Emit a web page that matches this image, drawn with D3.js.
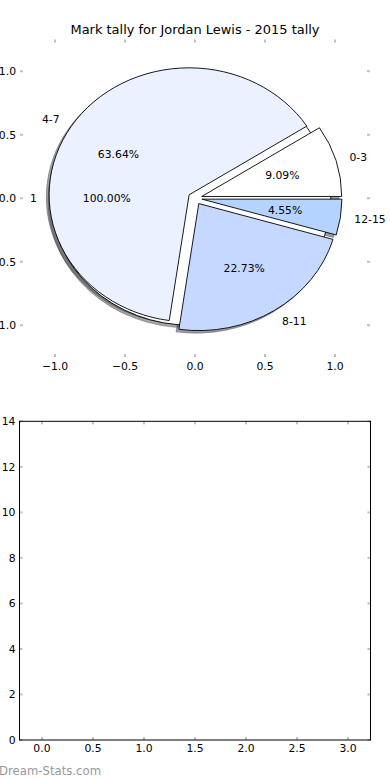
<!DOCTYPE html>
<html>
<head>
<meta charset="utf-8">
<script src="https://cdn.jsdelivr.net/npm/d3@7/dist/d3.min.js"></script>
<style>
  html, body { margin: 0; padding: 0; background: #ffffff; }
  svg { display: block; }
  text { font-family: "DejaVu Sans", sans-serif; }
</style>
</head>
<body>
<div id="chart"></div>
<script>
// ---------- data ----------
const chartTitle = "Mark tally for Jordan Lewis - 2015 tally";
const pieLabels = ["0-3", "4-7", "8-11", "12-15"];
const pieValues = [2, 14, 5, 1];
const pieColors = ["#ffffff", "#ebf1ff", "#c5d8ff", "#b4d3ff"];
const pieExplode = [0.05, 0.05, 0.05, 0.05];
const totalLabels = ["1"];
const totalValues = [22];
const totalColors = ["#ffffff"];
const totalExplode = [0.03];
const pieTicks = [-1.0, -0.5, 0.0, 0.5, 1.0];
const barXTicks = [0.0, 0.5, 1.0, 1.5, 2.0, 2.5, 3.0];
const barYTicks = [0, 2, 4, 6, 8, 10, 12, 14];
const watermark = "Dream-Stats.com";

// ---------- layout ----------
const W = 390, H = 780;
const FS = 10.8;
const svg = d3.select("#chart").append("svg").attr("width", W).attr("height", H);

const px = d3.scaleLinear().domain([-1.25, 1.25]).range([20, 370]);
const py = d3.scaleLinear().domain([-1.25, 1.25]).range([357, 39.5]);

const bx = d3.scaleLinear().domain([-0.22, 3.22]).range([19.5, 370.5]);
const by = d3.scaleLinear().domain([0, 14]).range([740, 421.3]);

const tickColor = "#c0c0c0";
const tickLen = 3;
const fmt1 = d3.format(".1f");

// ---------- pie axes ticks ----------
const pAx = svg.append("g");
pieTicks.forEach(t => {
  // bottom & top
  pAx.append("line").attr("x1", px(t)).attr("x2", px(t)).attr("y1", py(-1.25)).attr("y2", py(-1.25) - tickLen)
     .attr("stroke", tickColor).attr("stroke-width", 2);
  pAx.append("line").attr("x1", px(t)).attr("x2", px(t)).attr("y1", py(1.25)).attr("y2", py(1.25) + tickLen)
     .attr("stroke", tickColor).attr("stroke-width", 2);
  // left & right
  pAx.append("line").attr("x1", px(-1.25)).attr("x2", px(-1.25) + tickLen).attr("y1", py(t)).attr("y2", py(t))
     .attr("stroke", tickColor).attr("stroke-width", 2);
  pAx.append("line").attr("x1", px(1.25)).attr("x2", px(1.25) - tickLen).attr("y1", py(t)).attr("y2", py(t))
     .attr("stroke", tickColor).attr("stroke-width", 2);
  pAx.append("text").attr("x", px(t)).attr("y", py(-1.25) + 13).attr("text-anchor", "middle")
     .attr("font-size", FS).attr("fill", "#000").text(fmt1(t));
  pAx.append("text").attr("x", px(-1.25) - 4).attr("y", py(t) + 0.36 * FS).attr("text-anchor", "end")
     .attr("font-size", FS).attr("fill", "#000").text(fmt1(t));
});

// ---------- pies ----------
const pieGen = d3.pie().sort(null).value(d => d.v)
  .startAngle(Math.PI / 2).endAngle(Math.PI / 2 - 2 * Math.PI);
const arcGen = d3.arc().innerRadius(0).outerRadius(1);

function buildPie(labels, values, colors, explode) {
  const rows = labels.map((l, i) => ({ label: l, v: values[i], color: colors[i], e: explode[i] }));
  const total = d3.sum(values);
  return pieGen(rows).map(a => {
    const mid = (a.startAngle + a.endAngle) / 2;
    const cx = a.data.e * Math.sin(mid), cy = a.data.e * Math.cos(mid);
    return { a, mid, cx, cy, pct: a.data.v / total * 100 };
  });
}
const totalPie = buildPie(totalLabels, totalValues, totalColors, totalExplode);
const mainPie = buildPie(pieLabels, pieValues, pieColors, pieExplode);
const allWedges = totalPie.concat(mainPie);

const sx = px(1) - px(0), sy = py(0) - py(1);
const shOff = [px(-0.02) - px(0), py(-0.02) - py(0)];

function shadowColor(c) {
  const rgb = d3.rgb(c);
  return `rgba(${Math.round(rgb.r * 0.3)},${Math.round(rgb.g * 0.3)},${Math.round(rgb.b * 0.3)},0.5)`;
}

const gShadow = svg.append("g");
const gWedge = svg.append("g");
const gText = svg.append("g");

allWedges.forEach(w => {
  const d = arcGen({ startAngle: Math.min(w.a.startAngle, w.a.endAngle), endAngle: Math.max(w.a.startAngle, w.a.endAngle) });
  const sc = shadowColor(w.a.data.color);
  gShadow.append("path").attr("d", d)
    .attr("transform", `translate(${px(w.cx) + shOff[0]},${py(w.cy) + shOff[1]}) scale(${sx},${sy})`)
    .attr("fill", sc).attr("stroke", sc).attr("stroke-width", 0.9)
    .attr("vector-effect", "non-scaling-stroke");
  gWedge.append("path").attr("d", d)
    .attr("transform", `translate(${px(w.cx)},${py(w.cy)}) scale(${sx},${sy})`)
    .attr("fill", w.a.data.color).attr("stroke", "#000").attr("stroke-width", 0.9)
    .attr("stroke-linejoin", "round")
    .attr("vector-effect", "non-scaling-stroke");
  const lx = w.cx + 1.1 * Math.sin(w.mid), ly = w.cy + 1.1 * Math.cos(w.mid);
  gText.append("text").attr("x", px(lx)).attr("y", py(ly) + 0.36 * FS)
    .attr("text-anchor", lx > 0 ? "start" : "end").attr("font-size", FS).attr("fill", "#000")
    .text(w.a.data.label);
  const tx = w.cx + 0.6 * Math.sin(w.mid), ty = w.cy + 0.6 * Math.cos(w.mid);
  gText.append("text").attr("x", px(tx)).attr("y", py(ty) + 0.36 * FS)
    .attr("text-anchor", "middle").attr("font-size", FS).attr("fill", "#000")
    .text(d3.format(".2f")(w.pct) + "%");
});

// title
svg.append("text").attr("x", px(0)).attr("y", 34).attr("text-anchor", "middle")
  .attr("font-size", FS * 1.2).attr("fill", "#000").text(chartTitle);

// ---------- bottom (empty) axes ----------
const bAx = svg.append("g");
barXTicks.forEach(t => {
  bAx.append("line").attr("x1", bx(t)).attr("x2", bx(t)).attr("y1", by(0)).attr("y2", by(0) - tickLen)
     .attr("stroke", tickColor).attr("stroke-width", 2);
  bAx.append("line").attr("x1", bx(t)).attr("x2", bx(t)).attr("y1", by(14)).attr("y2", by(14) + tickLen)
     .attr("stroke", tickColor).attr("stroke-width", 2);
  bAx.append("text").attr("x", bx(t)).attr("y", by(0) + 11.7).attr("text-anchor", "middle")
     .attr("font-size", FS).attr("fill", "#000").text(fmt1(t));
});
barYTicks.forEach(t => {
  bAx.append("line").attr("x1", bx(-0.22)).attr("x2", bx(-0.22) + tickLen).attr("y1", by(t)).attr("y2", by(t))
     .attr("stroke", tickColor).attr("stroke-width", 2);
  bAx.append("line").attr("x1", bx(3.22)).attr("x2", bx(3.22) - tickLen).attr("y1", by(t)).attr("y2", by(t))
     .attr("stroke", tickColor).attr("stroke-width", 2);
  bAx.append("text").attr("x", bx(-0.22) - 4).attr("y", by(t) + 0.36 * FS).attr("text-anchor", "end")
     .attr("font-size", FS).attr("fill", "#000").text(d3.format("d")(t));
});
bAx.append("rect").attr("x", bx(-0.22)).attr("y", by(14))
  .attr("width", bx(3.22) - bx(-0.22)).attr("height", by(0) - by(14))
  .attr("fill", "none").attr("stroke", "#000").attr("stroke-width", 1);

// watermark
svg.append("text").attr("x", -1).attr("y", 775).attr("font-size", 11.7).attr("fill", "#999999")
  .text(watermark);
</script>
</body>
</html>
